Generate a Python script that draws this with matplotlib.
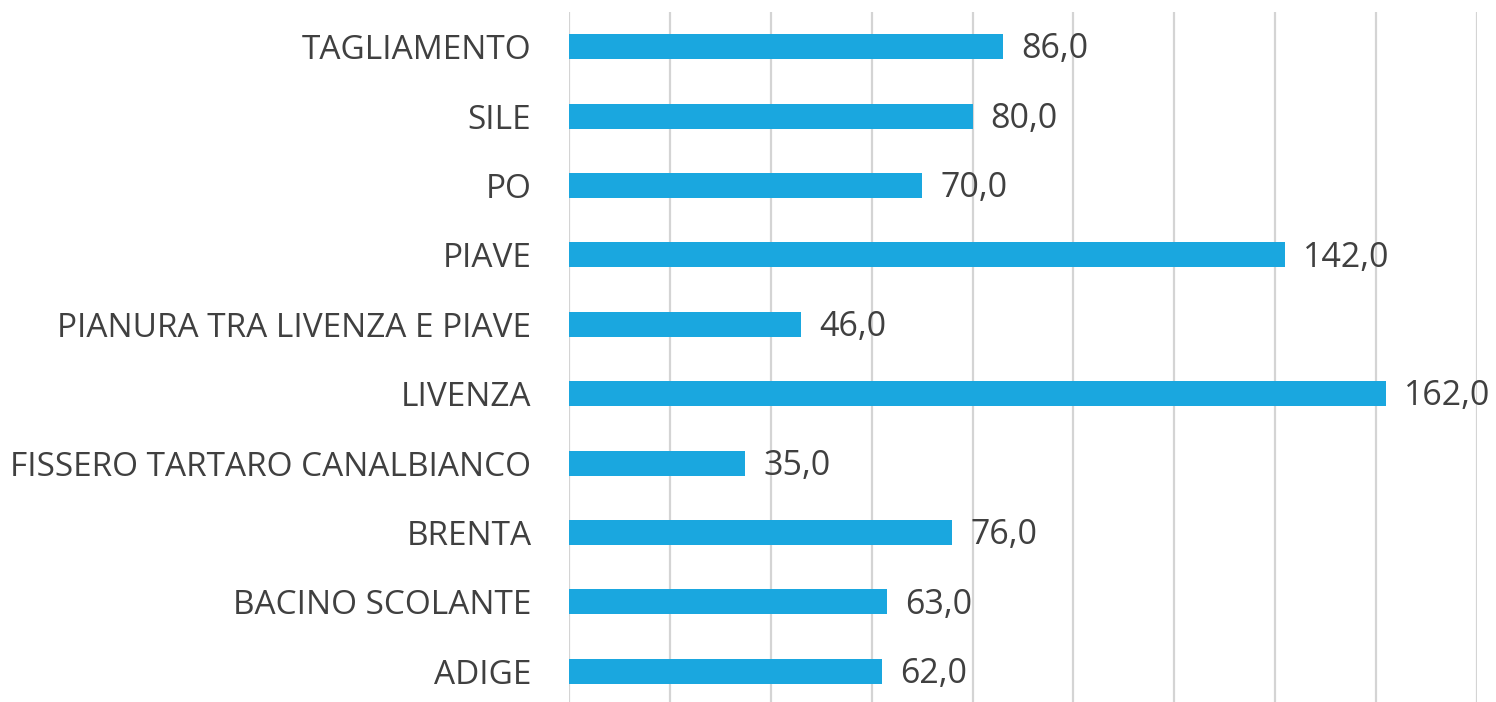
import matplotlib
matplotlib.use('Agg')
import matplotlib.pyplot as plt

# Data (bottom to top)
categories = ['ADIGE', 'BACINO SCOLANTE', 'BRENTA', 'FISSERO TARTARO CANALBIANCO',
              'LIVENZA', 'PIANURA TRA LIVENZA E PIAVE', 'PIAVE', 'PO', 'SILE', 'TAGLIAMENTO']
values = [62.0, 63.0, 76.0, 35.0, 162.0, 46.0, 142.0, 70.0, 80.0, 86.0]

bar_color = '#1AA7DF'
text_color = '#404040'

plt.rcParams['font.family'] = ['Open Sans', 'DejaVu Sans']

fig = plt.figure(figsize=(14.96, 7.02), dpi=100)
ax = fig.add_axes([0.3803, -0.0057, 0.607, 0.9886])

y = range(len(categories))
ax.barh(y, values, height=0.36, color=bar_color, zorder=3)

for i, v in zip(y, values):
    ax.annotate(f'{v:.1f}'.replace('.', ','), (v, i), xytext=(13, -2),
                textcoords='offset points', va='center', ha='left',
                fontsize=24.5, color=text_color)

ax.set_xlim(0, 180)
ax.set_ylim(-0.5, len(categories) - 0.5)
ax.set_xticks(range(0, 181, 20))
ax.xaxis.grid(True, color='#d4d4d4', linewidth=1.6, zorder=0)
ax.tick_params(axis='x', length=0, labelbottom=False)
ax.set_yticks(list(y))
ax.set_yticklabels(categories, fontsize=24, color=text_color)
ax.tick_params(axis='y', length=0, pad=27)
for s in ax.spines.values():
    s.set_visible(False)

fig.savefig('out.png', dpi=100)
